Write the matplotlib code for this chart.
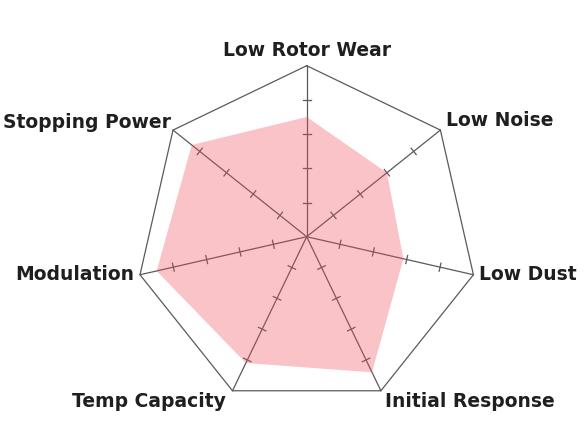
import numpy as np
import matplotlib
matplotlib.use('Agg')
import matplotlib.pyplot as plt

LABELS = ['Low Rotor Wear', 'Low Noise', 'Low Dust', 'Initial Response',
          'Temp Capacity', 'Modulation', 'Stopping Power']
VALUES = [3.5, 3.0, 2.9, 4.4, 4.1, 4.5, 4.3]
R_MAX = 5
TICKS = [1, 2, 3, 4]

plt.rcParams['font.family'] = ['DejaVu Sans']

n = len(LABELS)
# clockwise from the top
ang = np.pi / 2 - 2 * np.pi * np.arange(n) / n
ux, uy = np.cos(ang), np.sin(ang)

fig = plt.figure(figsize=(5.87, 4.25), dpi=100)
ax = fig.add_axes([0, 0, 1, 1])
scale = 34.2  # px per unit
ax.set_xlim(-306.7 / scale, (587 - 306.7) / scale)
ax.set_ylim(-(425 - 236.7) / scale, 236.7 / scale)
ax.set_aspect('equal')
ax.axis('off')

line_c = '#5a5a5a'
# outer frame
ax.plot(np.append(ux, ux[0]) * R_MAX, np.append(uy, uy[0]) * R_MAX,
        color=line_c, lw=0.9, zorder=1)
# spokes + tick marks
tl = 0.12
for i in range(n):
    ax.plot([0, ux[i] * R_MAX], [0, uy[i] * R_MAX], color=line_c, lw=0.9, zorder=1)
    px, py = -uy[i], ux[i]
    for t in TICKS:
        cx, cy = ux[i] * t, uy[i] * t
        ax.plot([cx - px * tl, cx + px * tl], [cy - py * tl, cy + py * tl],
                color=line_c, lw=0.9, zorder=1)

# data polygon
vals = np.array(VALUES)
ax.fill(vals * ux, vals * uy, color='#ee4a55', alpha=0.33, lw=0, zorder=2)

# labels
aligns = [('center', 'bottom'), ('left', 'bottom'), ('left', 'center'),
          ('left', 'top'), ('right', 'top'), ('right', 'center'), ('right', 'bottom')]
offs = [(0, 0.17), (0.17, 0.0), (0.15, 0.0), (0.12, -0.05),
        (-0.2, -0.05), (-0.17, 0.0), (-0.05, -0.05)]
for i in range(n):
    ha, va = aligns[i]
    ax.text(ux[i] * R_MAX + offs[i][0], uy[i] * R_MAX + offs[i][1], LABELS[i],
            ha=ha, va=va, fontsize=13.5, fontweight='bold', color='#1f1f1f')

fig.savefig('out.png', dpi=100)
